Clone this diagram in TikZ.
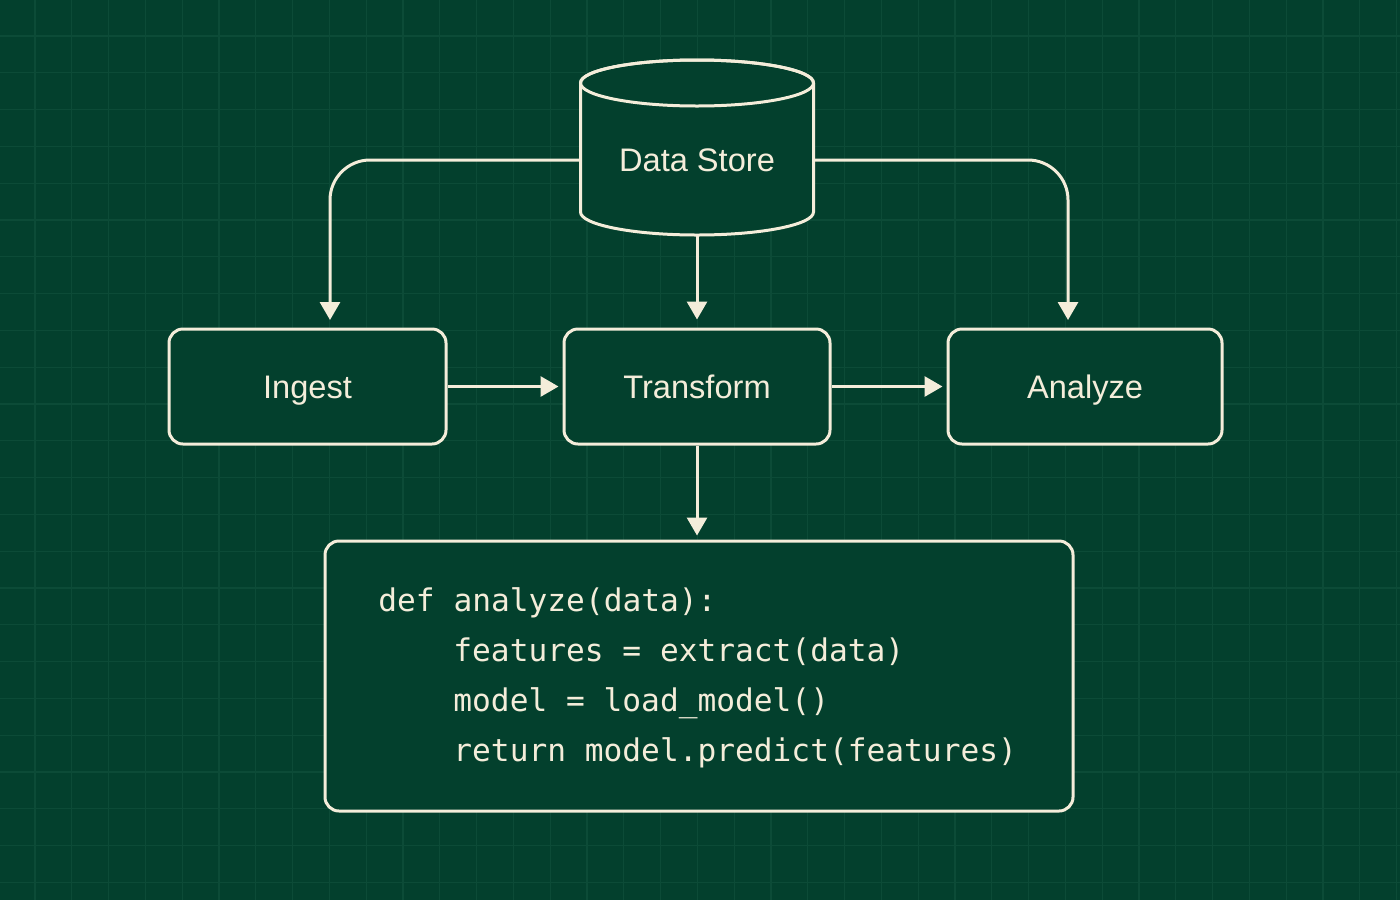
\documentclass[tikz,border=0pt]{standalone}
\usepackage{fontspec}
\setmainfont{Liberation Sans}
\setmonofont{DejaVu Sans Mono}
\usetikzlibrary{arrows.meta}
\definecolor{bg}{HTML}{03402D}
\definecolor{gridc}{HTML}{0C4B37}
\definecolor{ink}{HTML}{F4EDDA}
\begin{document}
\begin{tikzpicture}[x=0.5pt,y=-0.5pt,
  line/.style={draw=ink, line width=1.5pt},
  flow/.style={line, rounded corners=20pt, -{Triangle[length=9pt,width=10pt]}},
  box/.style={line, rounded corners=7pt, fill=bg, text=ink, font=\fontsize{16.3}{20}\selectfont, inner sep=0pt, text height=11.7pt, text depth=0pt},
  codetext/.style={text=ink, font=\ttfamily\fontsize{15.6}{25}\selectfont, inner sep=0pt, anchor=base west}]
\fill[bg] (0,0) rectangle (1400,900);
\useasboundingbox (0,0) rectangle (1400,900);
\foreach \i in {0,...,37} {
  \draw[gridc, line width=0.6pt] (35+36.8*\i,0) -- (35+36.8*\i,900);
}
\foreach \i in {0,...,24} {
  \draw[gridc, line width=0.6pt] (0,36+36.8*\i) -- (1400,36+36.8*\i);
}
% cylinder
\draw[line, fill=bg] (580.5,83) -- (580.5,212)
  arc[start angle=180, end angle=360, x radius=58.25pt, y radius=11.5pt]
  -- (813.5,83)
  arc[start angle=0, end angle=180, x radius=58.25pt, y radius=11.5pt] -- cycle;
\draw[line] (697,83) ellipse[x radius=58.25pt, y radius=11.5pt];
\node[text=ink, font=\fontsize{16.3}{20}\selectfont, minimum width=116.5pt, minimum height=75pt, inner sep=0pt, text height=11.7pt, text depth=0pt] (ds) at (697,160) {Data Store};
% boxes
\node[box, minimum width=138.5pt, minimum height=57.5pt] (ingest) at (307.5,386.5) {Ingest};
\node[box, minimum width=133pt, minimum height=57.5pt] (transform) at (697,386.5) {Transform};
\node[box, minimum width=137pt, minimum height=57.5pt] (analyze) at (1085,386.5) {Analyze};
\node[box, minimum width=374pt, minimum height=135pt] (code) at (699,676) {};
\coordinate (inL) at (330,320);
\coordinate (anR) at (1068,320);
% connectors
\draw[flow] (ds.west) -| (inL);
\draw[flow] (ds.east) -| (anR);
\draw[flow, shorten >=4pt] (ds.south) -- (transform.north);
\draw[flow, shorten >=2pt] (ingest.east) -- (transform.west);
\draw[flow, shorten >=2pt] (transform.east) -- (analyze.west);
\draw[flow, shorten >=2pt] (transform.south) -- (transform.south |- code.north);
% code
\node[codetext] (c1) at (378,611) {def analyze(data):};
\node[codetext] (c2) at (453,661) {features = extract(data)};
\node[codetext] (c3) at (453,711) {model = load\_model()};
\node[codetext] (c4) at (453,761) {return model.predict(features)};
\end{tikzpicture}
\end{document}
